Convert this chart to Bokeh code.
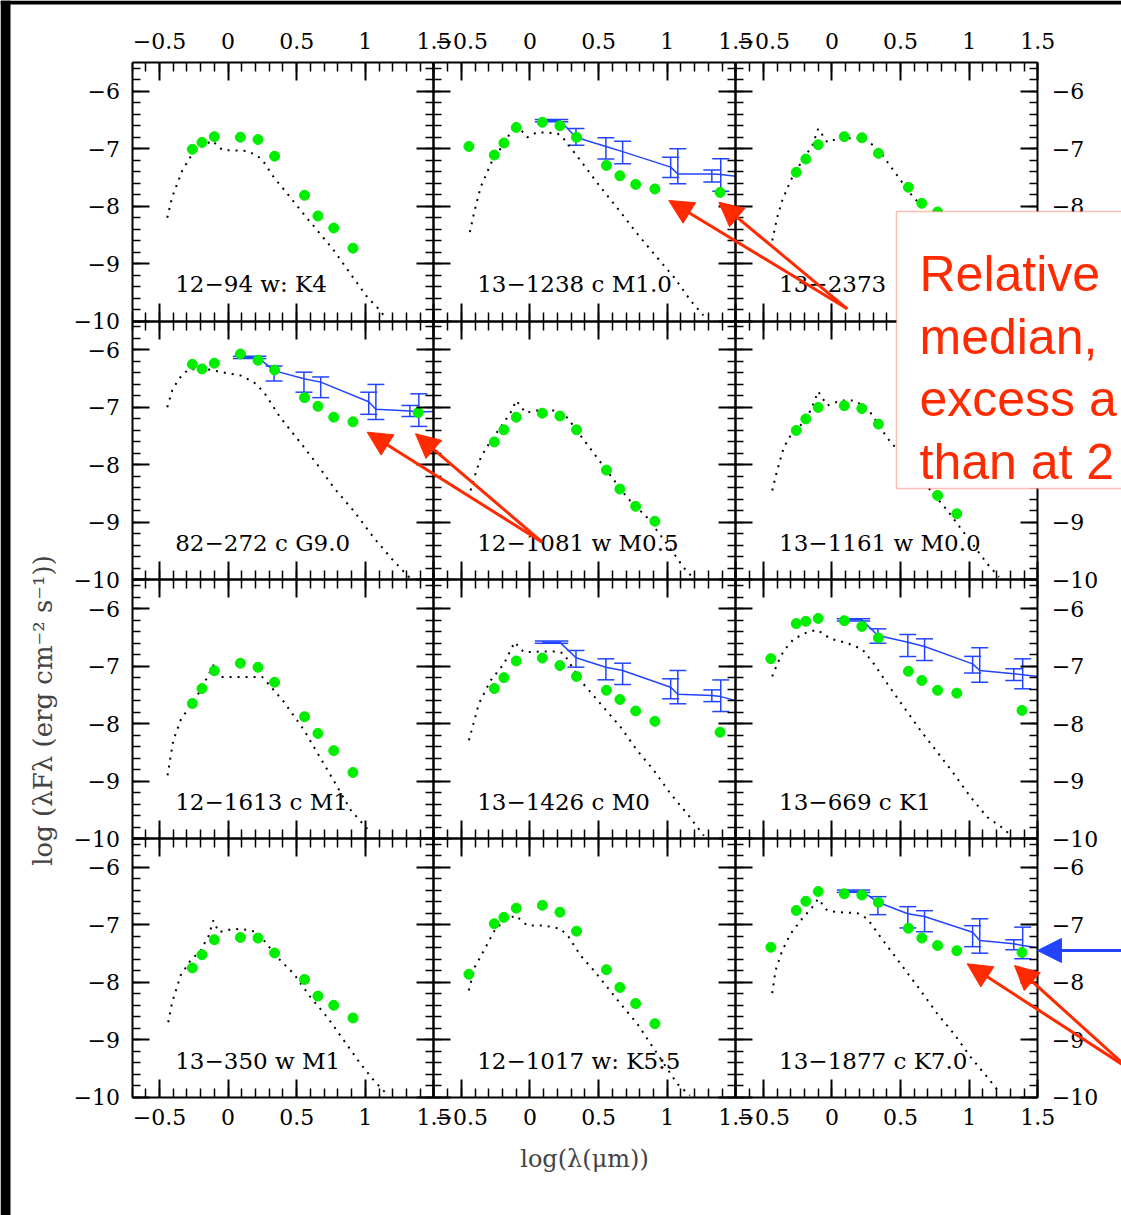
import math
from bokeh.plotting import figure
from bokeh.models import (Range1d, LinearAxis, FixedTicker, CustomJSTickFormatter,
                          ColumnDataSource, Whisker, TeeHead, Arrow, NormalHead,
                          BoxAnnotation, Label)
from bokeh.embed import file_html
from bokeh.resources import INLINE

# ---------------- data ----------------
names = ["12\u221294 w: K4", "13\u22121238 c M1.0", "13\u22122373",
         "82\u2212272 c G9.0", "12\u22121081 w M0.5", "13\u22121161 w M0.0",
         "12\u22121613 c M1", "13\u22121426 c M0", "13\u2212669 c K1",
         "13\u2212350 w M1", "12\u22121017 w: K5:5", "13\u22121877 c K7.0"]

x_u = [-0.445]
x_vk = [-0.26, -0.19, -0.10, 0.09, 0.218, 0.339]
x_irac = [0.557, 0.655, 0.77, 0.91]
x_m24 = [1.385]

# observed photometry (green points)
obs0_x = x_vk + x_irac
obs0_y = [-7.01, -6.89, -6.79, -6.80, -6.84, -7.13, -7.81, -8.17, -8.38, -8.73]
obs1_x = x_u + x_vk + x_irac + x_m24
obs1_y = [-6.96, -7.11, -6.90, -6.63, -6.54, -6.60, -6.80, -7.29, -7.47, -7.62, -7.70, -7.76]
obs2_x = x_vk + x_irac[:3]
obs2_y = [-7.41, -7.18, -6.93, -6.79, -6.81, -7.08, -7.67, -7.95, -8.10]
obs3_x = x_vk + x_irac + x_m24
obs3_y = [-6.25, -6.33, -6.23, -6.07, -6.18, -6.35, -6.83, -6.98, -7.17, -7.25, -7.09]
obs4_x = x_vk + x_irac
obs4_y = [-7.60, -7.39, -7.17, -7.10, -7.15, -7.39, -8.09, -8.42, -8.72, -8.98]
obs5_x = x_vk + x_irac[2:]
obs5_y = [-7.40, -7.20, -7.00, -6.97, -7.02, -7.29, -8.53, -8.85]
obs6_x = x_vk + x_irac
obs6_y = [-7.65, -7.39, -7.08, -6.95, -7.02, -7.28, -7.88, -8.17, -8.47, -8.85]
obs7_x = x_vk + x_irac + x_m24
obs7_y = [-7.39, -7.20, -6.91, -6.86, -6.99, -7.18, -7.42, -7.58, -7.78, -7.96, -8.15]
obs8_x = x_u + x_vk + x_irac + x_m24
obs8_y = [-6.87, -6.26, -6.22, -6.17, -6.21, -6.31, -6.51, -7.09, -7.25, -7.42, -7.47, -7.77]
obs9_x = x_vk + x_irac
obs9_y = [-7.75, -7.52, -7.26, -7.22, -7.23, -7.49, -7.95, -8.24, -8.40, -8.62]
obs10_x = x_u + x_vk + x_irac
obs10_y = [-7.86, -6.98, -6.87, -6.71, -6.66, -6.78, -7.11, -7.78, -8.09, -8.37, -8.72]
obs11_x = x_u + x_vk + x_irac + x_m24
obs11_y = [-7.39, -6.75, -6.59, -6.42, -6.46, -6.48, -6.61, -7.06, -7.23, -7.36, -7.45, -7.48]

# stellar photosphere models (dotted)
mod0_x = [-0.443, -0.407, -0.334, -0.261, -0.2, -0.115, -0.043, 0.14, 0.213, 0.26, 0.333, 0.431, 0.528, 0.65, 0.771, 0.893, 1.014, 1.087, 1.155]
mod0_y = [-8.20, -7.84, -7.38, -7.09, -6.97, -6.86, -7.02, -7.04, -7.12, -7.23, -7.495, -7.78, -8.07, -8.42, -8.77, -9.18, -9.58, -9.76, -9.96]
mod1_x = [-0.438, -0.409, -0.36, -0.275, -0.19, -0.105, -0.02, 0.053, 0.199, 0.247, 0.368, 0.514, 0.66, 0.782, 0.903, 1.049, 1.17, 1.263]
mod1_y = [-8.45, -8.13, -7.67, -7.205, -6.914, -6.567, -6.80, -6.712, -6.73, -6.83, -7.205, -7.67, -8.104, -8.48, -8.828, -9.235, -9.64, -9.90]
mod2_x = [-0.435, -0.398, -0.362, -0.301, -0.216, -0.143, -0.10, -0.034, 0.039, 0.209, 0.326, 0.449, 0.573, 0.67]
mod2_y = [-8.596, -8.19, -7.90, -7.553, -7.205, -6.944, -6.653, -6.886, -6.827, -6.81, -6.973, -7.379, -7.784, -8.045]
mod3_x = [-0.443, -0.407, -0.359, -0.298, -0.2, -0.104, -0.006, 0.091, 0.188, 0.261, 0.382, 0.528, 0.65, 0.771, 0.917, 1.062, 1.208, 1.33]
mod3_y = [-6.996, -6.705, -6.502, -6.358, -6.311, -6.358, -6.405, -6.445, -6.561, -6.735, -7.18, -7.615, -7.993, -8.398, -8.805, -9.268, -9.674, -9.98]
mod4_x = [-0.433, -0.397, -0.36, -0.30, -0.215, -0.142, -0.10, -0.032, 0.053, 0.199, 0.272, 0.417, 0.563, 0.709, 0.855, 1.0, 1.121, 1.194]
mod4_y = [-8.445, -8.154, -7.876, -7.633, -7.344, -7.093, -6.88, -7.093, -7.053, -7.053, -7.18, -7.645, -8.11, -8.572, -8.92, -9.379, -9.79, -9.98]
mod5_x = [-0.435, -0.399, -0.35, -0.301, -0.229, -0.155, -0.10, -0.034, 0.063, 0.16, 0.258, 0.403, 0.719, 0.841, 0.987, 1.132, 1.217]
mod5_y = [-8.445, -8.097, -7.691, -7.488, -7.314, -7.053, -6.723, -6.966, -6.88, -6.88, -7.006, -7.528, -8.445, -8.793, -9.257, -9.72, -9.95]
mod6_x = [-0.441, -0.40, -0.346, -0.2, -0.106, -0.05, 0.09, 0.25, 0.40, 0.55, 0.747, 0.893, 1.04]
mod6_y = [-8.90, -8.30, -7.94, -7.42, -6.98, -7.19, -7.19, -7.19, -7.60, -8.10, -8.90, -9.50, -9.90]
mod7_x = [-0.445, -0.373, -0.287, -0.19, -0.112, -0.045, 0.077, 0.21, 0.247, 0.368, 0.514, 0.66, 0.782, 0.903, 1.024, 1.146, 1.267]
mod7_y = [-8.29, -7.655, -7.25, -6.96, -6.583, -6.758, -6.745, -6.745, -6.786, -7.25, -7.655, -8.06, -8.47, -8.815, -9.22, -9.57, -9.95]
mod8_x = [-0.435, -0.398, -0.35, -0.277, -0.18, -0.107, -0.01, 0.112, 0.221, 0.306, 0.404, 0.524, 0.646, 0.768, 0.889, 1.011, 1.132, 1.253, 1.302]
mod8_y = [-7.18, -6.96, -6.728, -6.525, -6.41, -6.368, -6.525, -6.60, -6.705, -6.96, -7.307, -7.714, -8.12, -8.497, -8.873, -9.28, -9.628, -9.83, -9.946]
mod9_x = [-0.436, -0.407, -0.346, -0.274, -0.2, -0.14, -0.108, -0.067, 0.042, 0.14, 0.213, 0.358, 0.479, 0.601, 0.723, 0.844, 0.965, 1.062, 1.155]
mod9_y = [-8.694, -8.346, -7.881, -7.62, -7.446, -7.185, -6.924, -7.127, -7.069, -7.087, -7.127, -7.562, -7.852, -8.259, -8.607, -9.012, -9.417, -9.708, -9.94]
mod10_x = [-0.446, -0.403, -0.336, -0.258, -0.19, -0.105, -0.02, 0.101, 0.223, 0.283, 0.368, 0.465, 0.563, 0.66, 0.782, 0.879, 0.976, 1.073, 1.165]
mod10_y = [-8.142, -7.736, -7.446, -7.098, -6.925, -6.838, -7.011, -7.011, -7.069, -7.215, -7.533, -7.794, -8.085, -8.374, -8.722, -9.07, -9.417, -9.765, -9.969]
mod11_x = [-0.435, -0.411, -0.362, -0.301, -0.228, -0.143, -0.10, -0.034, 0.039, 0.185, 0.258, 0.355, 0.5, 0.646, 0.768, 0.889, 1.011, 1.132, 1.229]
mod11_y = [-8.189, -7.794, -7.446, -7.156, -6.925, -6.693, -6.547, -6.751, -6.78, -6.797, -6.894, -7.215, -7.678, -8.142, -8.547, -8.895, -9.302, -9.65, -9.94]

# median SED with quartile bars (blue)
med_x = [0.097, 0.217, 0.335, 0.553, 0.675, 1.025, 1.077, 1.325, 1.39]
med_tail_x = 1.5
med1 = [-6.51, -6.51, -6.80, -6.96, -7.05, -7.32, -7.44, -7.44, -7.45]
lo1 = [-6.53, -6.53, -6.94, -7.18, -7.26, -7.50, -7.61, -7.58, -7.74]
hi1 = [-6.49, -6.49, -6.65, -6.81, -6.87, -7.15, -7.00, -7.37, -7.175]
tail1 = -7.48
med3 = [-6.13, -6.13, -6.36, -6.50, -6.56, -6.90, -7.03, -7.06, -7.08]
lo3 = [-6.15, -6.15, -6.54, -6.735, -6.83, -7.12, -7.21, -7.158, -7.33]
hi3 = [-6.11, -6.11, -6.28, -6.387, -6.47, -6.735, -6.60, -6.966, -6.763]
tail3 = -7.07
med7 = [-6.583, -6.583, -6.855, -7.018, -7.076, -7.366, -7.49, -7.51, -7.53]
lo7 = [-6.603, -6.603, -7.018, -7.238, -7.32, -7.568, -7.655, -7.617, -7.79]
hi7 = [-6.563, -6.563, -6.728, -6.873, -6.949, -7.22, -7.076, -7.413, -7.24]
tail7 = -7.60
med8 = [-6.195, -6.195, -6.467, -6.583, -6.658, -6.96, -7.076, -7.134, -7.15]
lo8 = [-6.215, -6.215, -6.601, -6.833, -6.902, -7.12, -7.28, -7.25, -7.394]
hi8 = [-6.175, -6.175, -6.351, -6.45, -6.525, -6.83, -6.68, -7.046, -6.873]
tail8 = -7.18
med11 = [-6.415, -6.415, -6.606, -6.808, -6.855, -7.128, -7.272, -7.33, -7.36]
lo11 = [-6.435, -6.435, -6.823, -7.054, -7.12, -7.38, -7.493, -7.434, -7.59]
hi11 = [-6.395, -6.395, -6.51, -6.684, -6.754, -7.015, -6.895, -7.26, -7.04]
tail11 = -7.40

x_ticks = [-0.5, 0, 0.5, 1, 1.5]
y_ticks = [-10, -9, -8, -7, -6]

# ---------------- layout constants ----------------
W, H = 1121, 1215
X0, X1 = -0.7, 1.5
Y0, Y1 = -10.0, -5.5
PLOT_L, PLOT_T = 131.5, 62.0
PAN_W, PAN_H = 301.93, 258.7
GREEN = "#00ee00"
BLUE = "#2244ff"
RED = "#ff2a00"
TICK_FONT = "DejaVu Serif"

panels = [
    (obs0_x, obs0_y, mod0_x, mod0_y, None),
    (obs1_x, obs1_y, mod1_x, mod1_y, (med1, lo1, hi1, tail1)),
    (obs2_x, obs2_y, mod2_x, mod2_y, None),
    (obs3_x, obs3_y, mod3_x, mod3_y, (med3, lo3, hi3, tail3)),
    (obs4_x, obs4_y, mod4_x, mod4_y, None),
    (obs5_x, obs5_y, mod5_x, mod5_y, None),
    (obs6_x, obs6_y, mod6_x, mod6_y, None),
    (obs7_x, obs7_y, mod7_x, mod7_y, (med7, lo7, hi7, tail7)),
    (obs8_x, obs8_y, mod8_x, mod8_y, (med8, lo8, hi8, tail8)),
    (obs9_x, obs9_y, mod9_x, mod9_y, None),
    (obs10_x, obs10_y, mod10_x, mod10_y, None),
    (obs11_x, obs11_y, mod11_x, mod11_y, (med11, lo11, hi11, tail11)),
]

p = figure(width=W, height=H, x_range=Range1d(0, W), y_range=Range1d(H, 0),
           x_axis_type=None, y_axis_type=None, toolbar_location=None,
           output_backend="svg", min_border=0, outline_line_color=None,
           background_fill_color="white", border_fill_color="white")

kx = (X1 - X0) / PAN_W
ky = (Y1 - Y0) / PAN_H
for c in range(3):
    L = PLOT_L + c * PAN_W
    s = X0 - L * kx
    p.extra_x_ranges[f"c{c}"] = Range1d(s, s + W * kx)
for r in range(4):
    T = PLOT_T + r * PAN_H
    p.extra_y_ranges[f"r{r}"] = Range1d(Y1 - (H - T) * ky, Y1 + T * ky)

x_minor = [round(X0 + 0.1 * i, 2) for i in range(23)]
y_minor = [round(Y0 + 0.2 * i, 2) for i in range(23)]
fmt_code = "return tick < 0 ? '\\u2212' + String(Math.abs(tick)) : String(tick);"


def add_axis(side, c, r, labeled):
    xr, yr = f"c{c}", f"r{r}"
    if side in ("below", "above"):
        ax = LinearAxis(x_range_name=xr, y_range_name=yr,
                        fixed_location=(Y0 if side == "below" else Y1),
                        bounds=(X0, X1),
                        ticker=FixedTicker(ticks=x_ticks, minor_ticks=x_minor))
        ax.major_tick_in = 18
        ax.minor_tick_in = 9
        ax.major_label_standoff = 14 if side == "above" else 12
    else:
        ax = LinearAxis(x_range_name=xr, y_range_name=yr,
                        fixed_location=(X0 if side == "left" else X1),
                        bounds=(Y0, Y1),
                        ticker=FixedTicker(ticks=y_ticks, minor_ticks=y_minor))
        ax.major_tick_in = 17
        ax.minor_tick_in = 8
        ax.major_label_standoff = 12 if side == "left" else 14
    ax.major_tick_out = 0
    ax.minor_tick_out = 0
    ax.axis_line_width = 2
    ax.axis_line_color = "black"
    ax.major_tick_line_width = 2
    ax.minor_tick_line_width = 1.5
    ax.formatter = CustomJSTickFormatter(code=fmt_code)
    if labeled:
        ax.major_label_text_font = TICK_FONT
        ax.major_label_text_font_size = "22px"
        ax.major_label_text_color = "black"
    else:
        ax.major_label_text_color = None
    p.add_layout(ax, side)


for i, (ox, oy, mx, my, med) in enumerate(panels):
    r, c = divmod(i, 3)
    xr, yr = f"c{c}", f"r{r}"
    add_axis("below", c, r, r == 3)
    add_axis("above", c, r, r == 0)
    add_axis("left", c, r, c == 0)
    add_axis("right", c, r, c == 2)

    p.line(mx, my, x_range_name=xr, y_range_name=yr, line_color="black",
           line_width=2, line_dash="2 6")
    if med is not None:
        m, lo, hi, tail = med
        p.line(med_x + [med_tail_x], m + [tail], x_range_name=xr, y_range_name=yr,
               line_color=BLUE, line_width=1.5)
        src = ColumnDataSource(dict(x=med_x, lo=lo, hi=hi))
        p.add_layout(Whisker(source=src, base="x", lower="lo", upper="hi",
                             x_range_name=xr, y_range_name=yr,
                             line_color=BLUE, line_width=1.5,
                             upper_head=TeeHead(size=17, line_color=BLUE, line_width=1.5),
                             lower_head=TeeHead(size=17, line_color=BLUE, line_width=1.5)))
    p.scatter(ox, oy, x_range_name=xr, y_range_name=yr, size=10,
              fill_color=GREEN, line_color=GREEN)
    p.add_layout(Label(x=-0.385, y=-9.36, x_range_name=xr, y_range_name=yr,
                       text=names[i], text_font=TICK_FONT, text_font_size="23px",
                       text_baseline="middle", text_align="left", text_color="black"))

# axis titles
p.add_layout(Label(x=584, y=1158, text="log(\u03bb(\u03bcm))", text_font=TICK_FONT,
                   text_font_size="24px", text_align="center", text_baseline="middle"))
p.add_layout(Label(x=42, y=710, text="log (\u03bbF\u03bb (erg cm\u207b\u00b2 s\u207b\u00b9))",
                   angle=math.pi / 2, text_font=TICK_FONT, text_font_size="26px",
                   text_align="center", text_baseline="middle"))

# overlay annotation: text box
p.add_layout(BoxAnnotation(left=896, right=1150, top=211, bottom=488,
                           fill_color="white", fill_alpha=1.0,
                           line_color=RED, line_width=1.5))
for txt, yb in [("Relative", 273.5), ("median,", 336), ("excess a", 398.5), ("than at 2", 461)]:
    p.add_layout(Label(x=919, y=yb, text=txt, text_font="Liberation Sans",
                       text_font_size="50px", text_color=RED,
                       text_baseline="alphabetic", text_align="left"))

# arrows
for (xs, ys, xe, ye) in [(846.7, 308.3, 668.3, 200.0), (846.7, 308.3, 718.3, 201.7),
                         (541.7, 541.7, 366.7, 431.7), (541.7, 541.7, 415.0, 433.3),
                         (1128, 1068, 966.7, 963.3), (1128, 1068, 1014.0, 965.0)]:
    p.add_layout(Arrow(x_start=xs, y_start=ys, x_end=xe, y_end=ye,
                       line_color=RED, line_width=3,
                       end=NormalHead(size=24, fill_color=RED, line_color=RED, line_width=1)))
p.add_layout(Arrow(x_start=1130, y_start=950, x_end=1037, y_end=950,
                   line_color=BLUE, line_width=3,
                   end=NormalHead(size=24, fill_color=BLUE, line_color=BLUE, line_width=1)))

# black screenshot edges
p.add_layout(BoxAnnotation(left=0, right=10, top=0, bottom=H, fill_color="black",
                           fill_alpha=1.0, line_color=None))
p.add_layout(BoxAnnotation(left=0, right=W, top=0, bottom=4, fill_color="black",
                           fill_alpha=1.0, line_color=None))

open("out.html", "w").write(file_html(p, INLINE))
